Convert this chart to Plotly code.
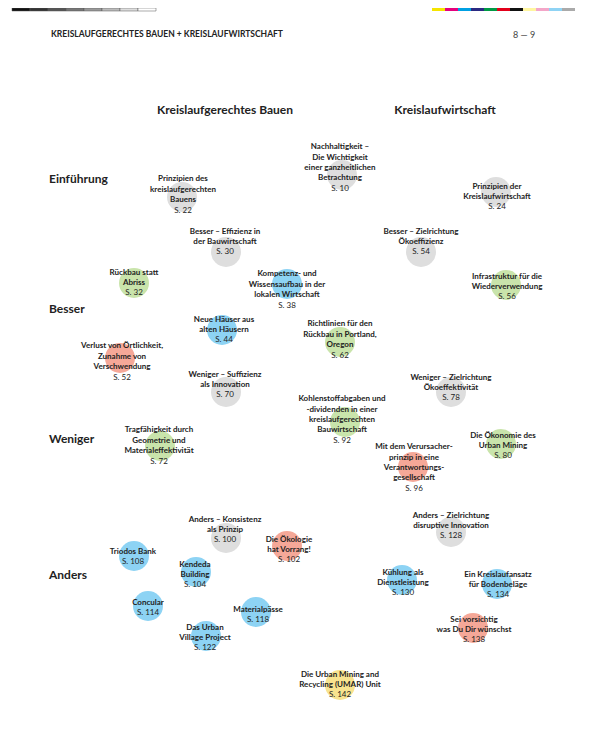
import plotly.graph_objects as go

titles = [
    "Nachhaltigkeit –<br>Die Wichtigkeit<br>einer ganzheitlichen<br>Betrachtung",
    "Prinzipien des<br>kreislaufgerechten<br>Bauens",
    "Prinzipien der<br>Kreislaufwirtschaft",
    "Besser – Effizienz in<br>der Bauwirtschaft",
    "Besser – Zielrichtung<br>Ökoeffizienz",
    "Rückbau statt<br>Abriss",
    "Kompetenz- und<br>Wissensaufbau in der<br>lokalen Wirtschaft",
    "Infrastruktur für die<br>Wiederverwendung",
    "Neue Häuser aus<br>alten Häusern",
    "Richtlinien für den<br>Rückbau in Portland,<br>Oregon",
    "Verlust von Örtlichkeit,<br>Zunahme von<br>Verschwendung",
    "Weniger – Suffizienz<br>als Innovation",
    "Weniger – Zielrichtung<br>Ökoeffektivität",
    "Kohlenstoffabgaben und<br>-dividenden in einer<br>kreislaufgerechten<br>Bauwirtschaft",
    "Die Ökonomie des<br>Urban Mining",
    "Tragfähigkeit durch<br>Geometrie und<br>Materialeffektivität",
    "Mit dem Verursacher-<br>prinzip in eine<br>Verantwortungs-<br>gesellschaft",
    "Anders – Konsistenz<br>als Prinzip",
    "Anders – Zielrichtung<br>disruptive Innovation",
    "Die Ökologie<br>hat Vorrang!",
    "Triodos Bank",
    "Kendeda<br>Building",
    "Kühlung als<br>Dienstleistung",
    "Ein Kreislaufansatz<br>für Bodenbeläge",
    "Concular",
    "Materialpässe",
    "Das Urban<br>Village Project",
    "Sei vorsichtig<br>was Du Dir wünschst",
    "Die Urban Mining and<br>Recycling (UMAR) Unit",
]
pages = [10, 22, 24, 30, 54, 32, 38, 56, 44, 62, 52, 70, 78, 92, 80, 72, 96,
         100, 128, 102, 108, 104, 130, 134, 114, 118, 122, 138, 142]
groups = ["grey", "grey", "grey", "grey", "grey", "green", "blue", "green", "blue",
          "green", "red", "grey", "grey", "green", "green", "green", "red",
          "grey", "grey", "red", "blue", "blue", "blue", "blue", "blue", "blue",
          "blue", "red", "yellow"]
node_x = [340, 183, 497, 225, 421, 134, 287, 507, 224, 340, 122, 225, 451, 342,
          503, 159, 414, 225, 451, 289, 133, 195, 403, 498, 148, 258, 205, 474, 340]
node_y = [168, 195, 197, 242, 242, 283, 290, 287, 330, 340, 362, 385, 388, 420,
          446, 446, 468, 530, 526, 550, 557, 575, 583, 585, 608, 615, 638, 630, 685]
circle_x = [342, 182, 496, 226, 421, 134, 287, 506, 222, 340, 120, 226, 451, 345,
            501, 160, 413, 226, 451, 287, 134, 196, 402, 497, 148, 256, 206, 473, 340]
circle_y = [175, 197, 192, 252, 252, 283, 284, 285, 330, 342, 358, 392, 392, 422,
            444, 446, 467, 538, 532, 546, 556, 572, 580, 584, 606, 612, 636, 628, 685]

rows = ["Einführung", "Besser", "Weniger", "Anders"]
row_y = [180, 310, 440, 576]
columns = ["Kreislaufgerechtes Bauen", "Kreislaufwirtschaft"]
col_x = [225, 445]

palette = {"grey": "#dedede", "green": "#c9e4ab", "blue": "#8dd3f4",
           "red": "#f5a898", "yellow": "#f8e38f"}

fig = go.Figure()
fig.add_trace(go.Scatter(
    x=circle_x, y=circle_y, mode="markers",
    marker=dict(size=30, color=[palette[g] for g in groups], line=dict(width=0)),
    hoverinfo="skip", showlegend=False))
fig.add_trace(go.Scatter(
    x=node_x, y=node_y, mode="text",
    text=[f"<b>{t}</b><br>S. {p}" for t, p in zip(titles, pages)],
    textposition="middle center",
    textfont=dict(family="Lato", size=8, color="#222"),
    showlegend=False))
fig.add_trace(go.Scatter(
    x=[49] * len(rows), y=row_y, mode="text", text=[f"<b>{r}</b>" for r in rows],
    textposition="middle right", textfont=dict(family="Lato", size=12, color="#222"),
    showlegend=False))
fig.add_trace(go.Scatter(
    x=col_x, y=[111, 111], mode="text", text=[f"<b>{c}</b>" for c in columns],
    textposition="middle center", textfont=dict(family="Lato", size=12, color="#222"),
    showlegend=False))

fig.add_annotation(x=49, y=34, xref="x", yref="y", text="<b>KREISLAUFGERECHTES BAUEN + KREISLAUFWIRTSCHAFT</b>",
                   showarrow=False, xanchor="left", font=dict(family="Lato", size=8.5, color="#222"))
fig.add_annotation(x=537, y=34, xref="x", yref="y", text="8 — 9",
                   showarrow=False, xanchor="right", font=dict(family="Lato", size=9, color="#444"))

greys = ["#111", "#333", "#555", "#777", "#999", "#bbb", "#ddd", "#fff"]
for i, c in enumerate(greys):
    fig.add_shape(type="rect", x0=12 + i * 18, x1=30 + i * 18, y0=8, y1=11,
                  fillcolor=c, line=dict(color="#555", width=0.5))
swatches = ["#f5e400", "#e5007d", "#00a0e3", "#2b2a82", "#009a44", "#e2001a",
            "#111", "#fff6a0", "#f3a6c8", "#8fd3f4", "#aaa"]
for i, c in enumerate(swatches):
    fig.add_shape(type="rect", x0=432 + i * 13, x1=445 + i * 13, y0=8, y1=11,
                  fillcolor=c, line=dict(width=0))

fig.update_xaxes(range=[8, 601], visible=False, fixedrange=True)
fig.update_yaxes(range=[758, 8], visible=False, fixedrange=True)
fig.update_layout(width=593, height=750, margin=dict(l=0, r=0, t=0, b=0),
                  plot_bgcolor="white", paper_bgcolor="white")
fig.write_html("out.html")
